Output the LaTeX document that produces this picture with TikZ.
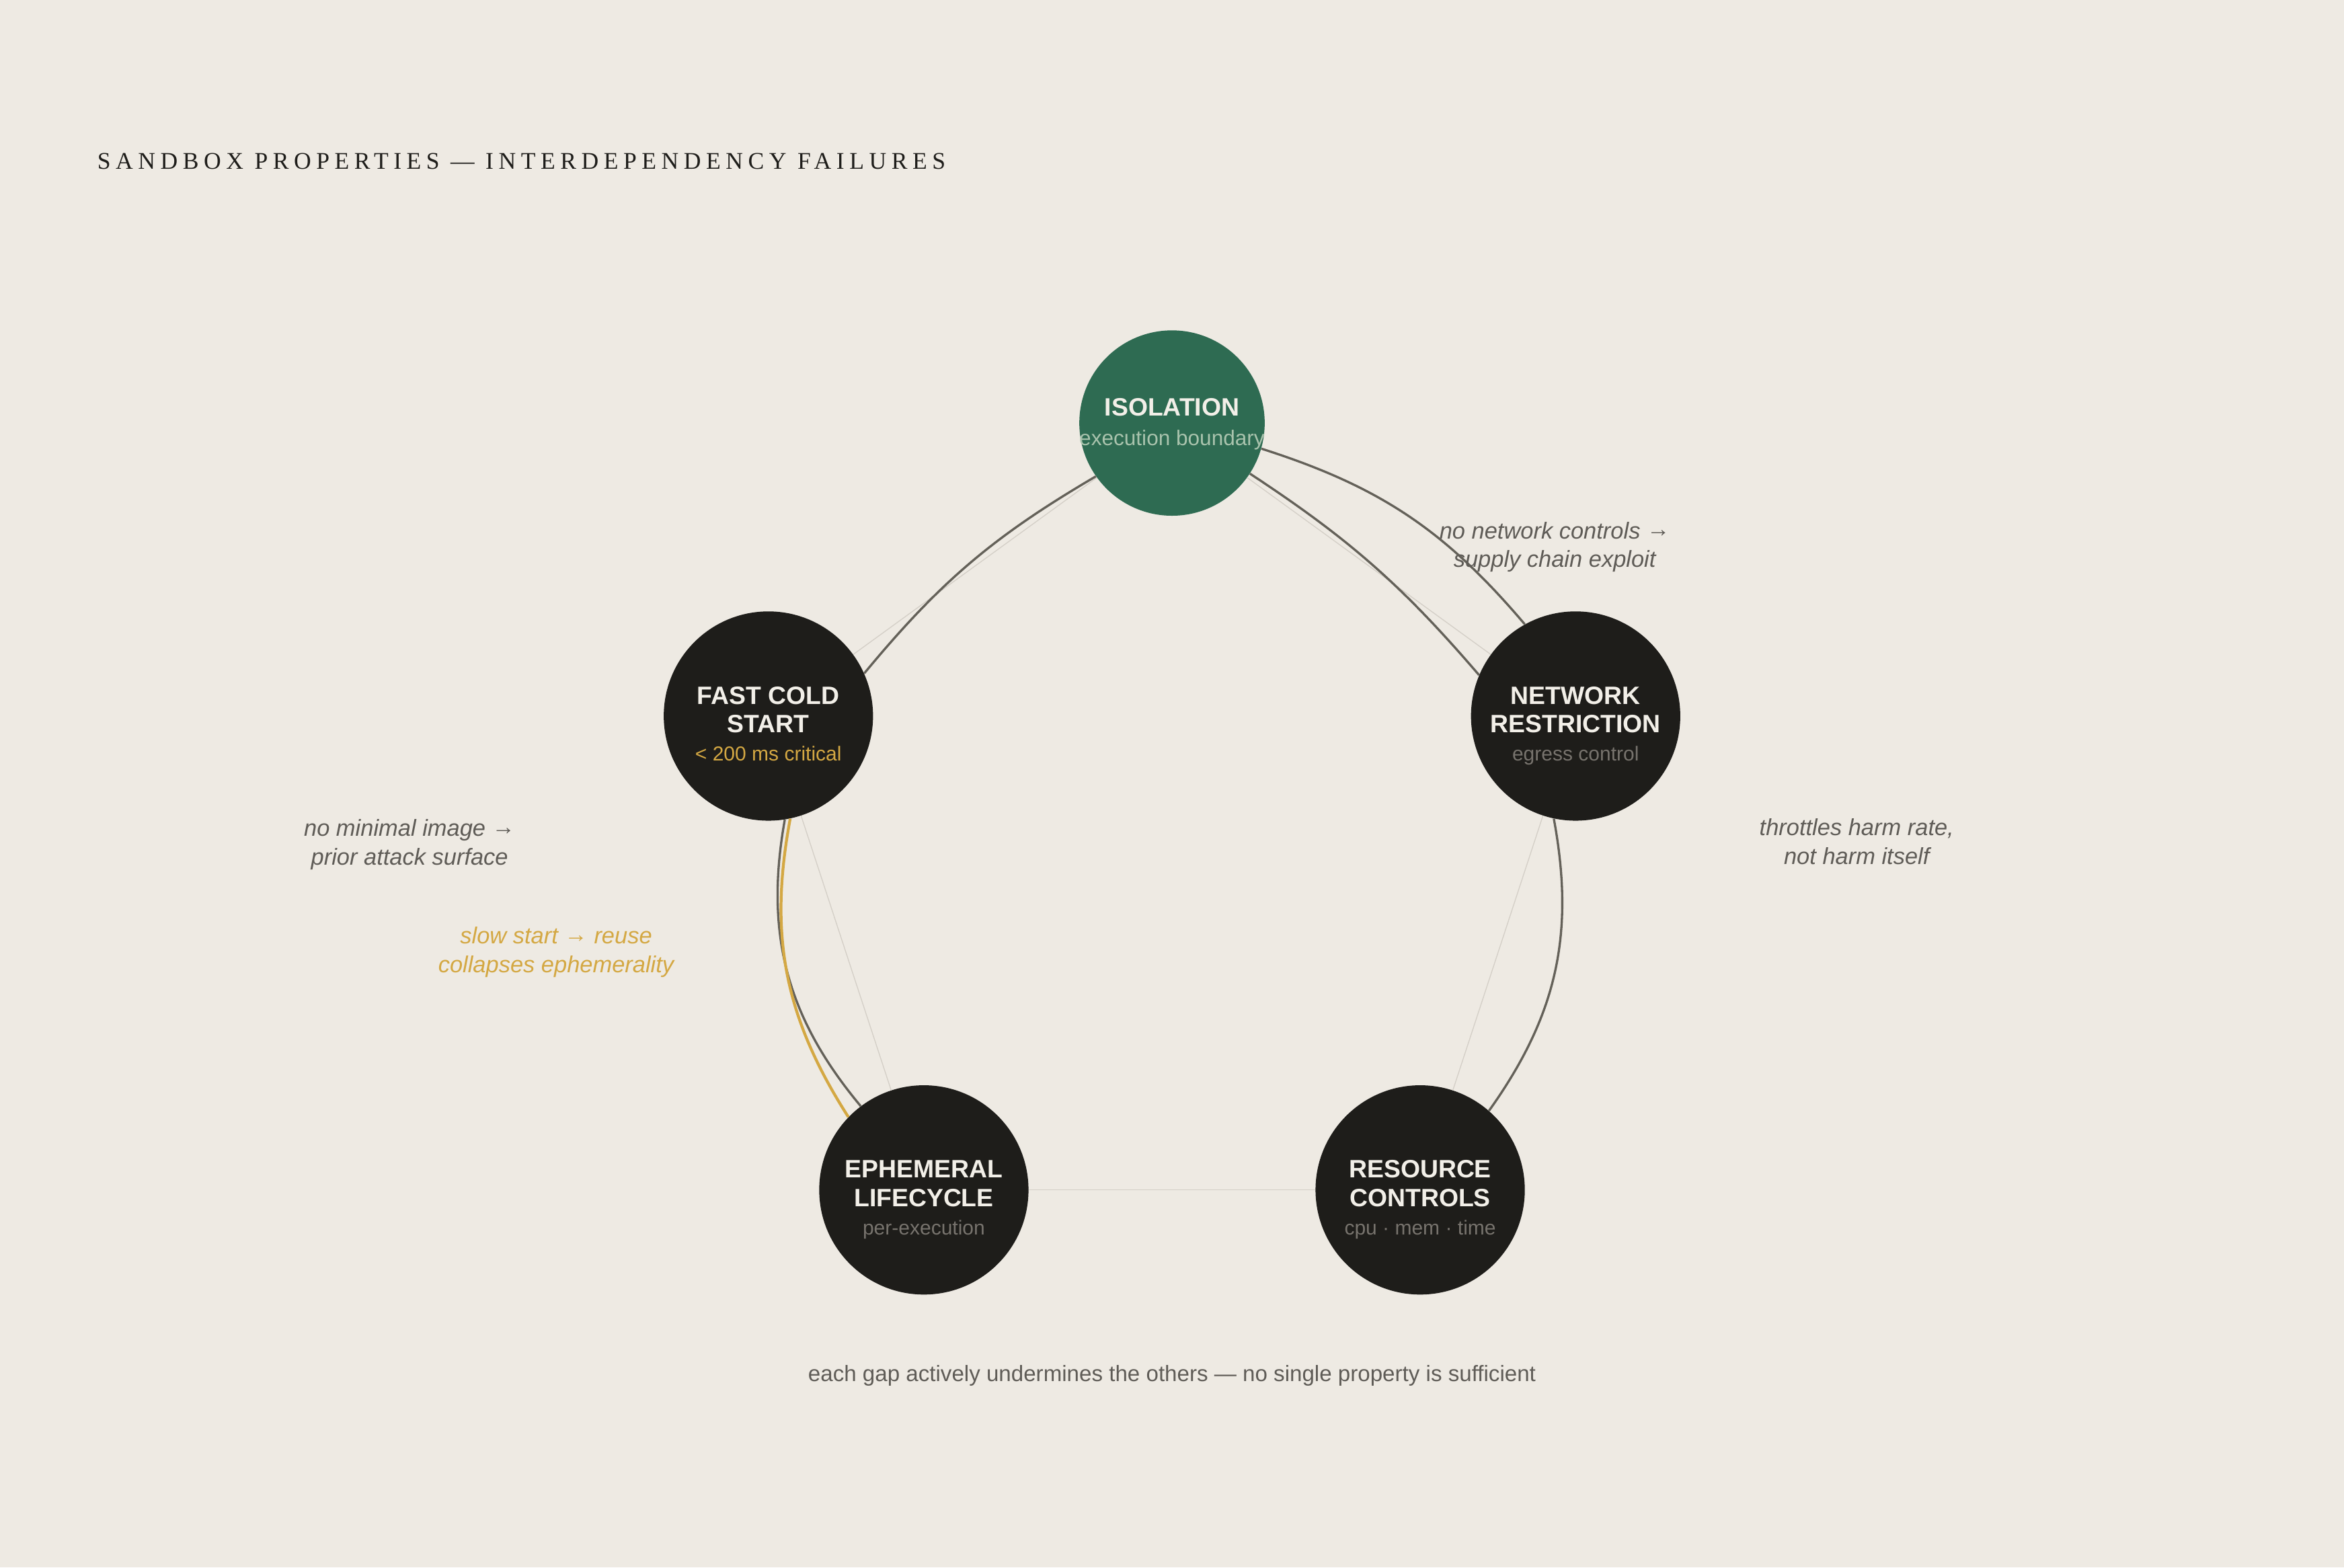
\documentclass[tikz,border=0pt]{standalone}
\usepackage{fontspec}
\setmainfont{Liberation Serif}
\setsansfont{Liberation Sans}
\newfontfamily\headfont[LetterSpace=21.2]{Liberation Serif}
\usetikzlibrary{positioning}

\definecolor{paper}{HTML}{EEEAE3}
\definecolor{ink}{HTML}{1E1D1A}
\definecolor{moss}{HTML}{2E6B52}
\definecolor{wire}{HTML}{646159}
\definecolor{ghost}{HTML}{D4CFC7}
\definecolor{amber}{HTML}{D4A843}
\definecolor{note}{HTML}{5F5C57}
\definecolor{cream}{HTML}{F2EFE8}
\definecolor{sage}{HTML}{A9C3AD}
\definecolor{dim}{HTML}{77736D}

\newcommand{\thento}{\raisebox{1.2pt}{→}}

\tikzset{
  prop/.style={circle, fill=ink, minimum size=140pt, inner sep=0pt},
  ptitle/.style={anchor=base, inner sep=0pt, text=cream, font=\sffamily\bfseries\fontsize{16.8}{19}\selectfont},
  psub/.style={anchor=base, inner sep=0pt, font=\sffamily\fontsize{13.5}{16}\selectfont},
  remark/.style={align=center, inner sep=0pt, text=note, font=\sffamily\itshape\fontsize{15.5}{19}\selectfont},
  edge/.style={ghost, line width=0.6pt},
  link/.style={wire, line width=1.5pt},
}

\begin{document}
\begin{tikzpicture}[x=1pt, y=1pt]
                \fill[paper] (0,0) rectangle (1568,-1048.5);

                % --------
                % Title
                % --------
                \node[anchor=base west, inner sep=0pt, font=\headfont\fontsize{16}{18}\selectfont, text=ink] at (65, -113) (title) {SANDBOX PROPERTIES — INTERDEPENDENCY FAILURES};

                % --------
                % Properties
                % --------
                \node[prop, fill=moss, minimum size=124pt] at (784, -283) (iso) {};
                \node[prop] at (514, -479) (fast) {};
                \node[prop] at (1054, -479) (net) {};
                \node[prop] at (618, -796) (eph) {};
                \node[prop] at (950, -796) (res) {};

                \node[ptitle] at (784, -278) (isoA) {ISOLATION};
                \node[psub, text=sage, font=\sffamily\fontsize{14.2}{16}\selectfont] at (784, -298) (isoB) {execution boundary};

                \node[ptitle] at (514, -471) (fastA) {FAST COLD};
                \node[ptitle] at (514, -490) (fastB) {START};
                \node[psub, text=amber] at (514, -509) (fastC) {< 200 ms critical};

                \node[ptitle] at (1054, -471) (netA) {NETWORK};
                \node[ptitle] at (1054, -490) (netB) {RESTRICTION};
                \node[psub, text=dim] at (1054, -509) (netC) {egress control};

                \node[ptitle] at (618, -788) (ephA) {EPHEMERAL};
                \node[ptitle] at (618, -807) (ephB) {LIFECYCLE};
                \node[psub, text=dim] at (618, -826) (ephC) {per-execution};

                \node[ptitle] at (950, -788) (resA) {RESOURCE};
                \node[ptitle] at (950, -807) (resB) {CONTROLS};
                \node[psub, text=dim] at (950, -826) (resC) {cpu · mem · time};

                % Draw line
                \draw[edge] (iso) -- (fast);
                \draw[edge] (iso) -- (net);
                \draw[edge] (net) -- (res);
                \draw[edge] (res) -- (eph);
                \draw[edge] (eph) -- (fast);

                % Failures
                \draw[link] (fast.24) to[bend left=10] (iso.215);
                \draw[link] (iso.327) to[bend left=8] (net.157.5);
                \draw[link] (iso.344) to[bend left=16] (net.119);
                \draw[link] (net.258) to[bend left=23] (res.49);
                \draw[link] (fast.279) to[bend right=25] (eph.127.5);
                \draw[link, amber, line width=1.9pt] (fast.282) to[bend right=21.6] (eph.136);

                % --------
                % Notes
                % --------
                \node[remark] at (1040, -366) (noteNet) {no network controls \thento\\supply chain exploit};
                \node[remark] at (1242, -563) (noteRes) {throttles harm rate,\\not harm itself};
                \node[remark] at (274, -565) (noteImg) {no minimal image \thento\\prior attack surface};
                \node[remark, text=amber] at (372, -637) (noteSlow) {slow start \thento{} reuse\\collapses ephemerality};

                \node[anchor=base, inner sep=0pt, text=note, font=\sffamily\fontsize{14.9}{18}\selectfont] at (784, -924) (footer) {each gap actively undermines the others — no single property is sufficient};
\end{tikzpicture}
\end{document}
